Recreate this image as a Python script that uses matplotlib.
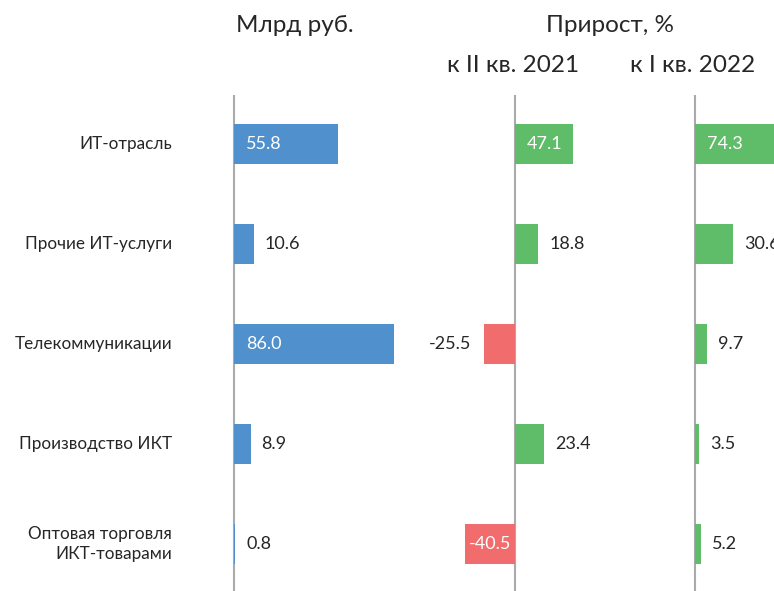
import numpy as np
import matplotlib.pyplot as plt

plt.rcParams['font.family'] = ['Lato', 'Noto Sans', 'DejaVu Sans']

# Данные
categories = ['ИТ-отрасль', 'Прочие ИТ-услуги', 'Телекоммуникации',
              'Производство ИКТ', 'Оптовая торговля\nИКТ-товарами']
volume = [55.8, 10.6, 86.0, 8.9, 0.8]          # млрд руб.
growth_yoy = [47.1, 18.8, -25.5, 23.4, -40.5]  # к II кв. 2021, %
growth_qoq = [74.3, 30.6, 9.7, 3.5, 5.2]       # к I кв. 2022, %

BLUE = '#4f90cd'
GREEN = '#5fbd69'
RED = '#f16c6c'
TEXT = '#262626'
LINE = '#aaaaaa'

W, H = 774, 591
fig = plt.figure(figsize=(W / 100, H / 100), dpi=100)

y = np.arange(len(categories))
top_px, bottom_px = 95, 591
ylim = (4.47, -0.49)


def make_axes(zero_px, left_px, right_px, px_per_unit):
    ax = fig.add_axes([left_px / W, 1 - bottom_px / H,
                       (right_px - left_px) / W, (bottom_px - top_px) / H])
    ax.set_xlim((left_px - zero_px) / px_per_unit, (right_px - zero_px) / px_per_unit)
    ax.set_ylim(*ylim)
    ax.axis('off')
    ax.axvline(0, color=LINE, lw=1.5, zorder=1)
    return ax


def draw_panel(ax, values, colors, px_per_unit, fs=13):
    ax.barh(y, values, height=0.4, color=colors, zorder=2)
    for yi, v in zip(y, values):
        width_px = abs(v) * px_per_unit
        txt = f'{v:.1f}'
        if width_px > 45:
            if v > 0:
                ax.text(12 / px_per_unit, yi, txt, ha='left', va='center',
                        color='white', fontsize=fs, zorder=4)
            else:
                ax.text(-4 / px_per_unit, yi, txt, ha='right', va='center',
                        color='white', fontsize=fs, zorder=4)
        else:
            if v >= 0:
                ax.text(v + 11 / px_per_unit, yi, txt, ha='left', va='center',
                        color=TEXT, fontsize=fs, clip_on=False)
            else:
                ax.text(v - 12 / px_per_unit, yi, txt, ha='right', va='center',
                        color=TEXT, fontsize=fs, clip_on=False)


# Млрд руб.
k1 = 1.86
ax1 = make_axes(234, 180, 460, k1)
draw_panel(ax1, volume, [BLUE] * 5, k1)
for yi, c in zip(y, categories):
    ax1.text((172 - 234) / k1, yi, c, ha='right', va='center',
             color=TEXT, fontsize=12.3, linespacing=1.3, clip_on=False)

# Прирост к II кв. 2021
k2 = 1.235
ax2 = make_axes(515, 420, 640, k2)
draw_panel(ax2, growth_yoy, [GREEN if v >= 0 else RED for v in growth_yoy], k2)

# Прирост к I кв. 2022
ax3 = make_axes(695, 650, 774, k2)
draw_panel(ax3, growth_qoq, [GREEN if v >= 0 else RED for v in growth_qoq], k2)

# Заголовки
hfs = 17.5
fig.text(236 / W, 1 - 26 / H, 'Млрд руб.', ha='left', va='center', fontsize=hfs, color=TEXT)
fig.text(610 / W, 1 - 26 / H, 'Прирост, %', ha='center', va='center', fontsize=hfs, color=TEXT)
fig.text(513 / W, 1 - 66 / H, 'к II кв. 2021', ha='center', va='center', fontsize=hfs, color=TEXT)
fig.text(693 / W, 1 - 66 / H, 'к I кв. 2022', ha='center', va='center', fontsize=hfs, color=TEXT)

fig.savefig('out.png', dpi=100, facecolor='white')
